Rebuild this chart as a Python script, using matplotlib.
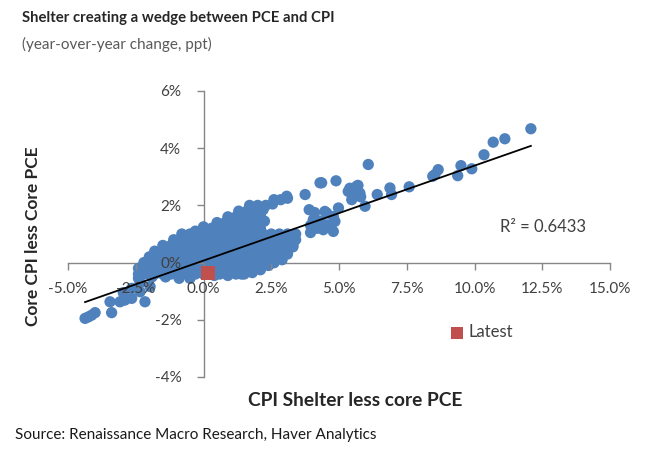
import matplotlib
matplotlib.use("Agg")
import matplotlib.pyplot as plt
import numpy as np

plt.rcParams['font.family'] = ['Lato', 'DejaVu Sans']

# Data (ppt)
# dense cloud around the origin
main_x = [2.6, 2.85, 3.1,
          1.7, 2.0, 2.3, 2.55,
          1.3, 1.6, 1.9, 2.2,
          0.9, 1.2, 1.5, 1.8, 2.1,
          0.5, 0.8, 1.1, 1.4, 1.7, 2.0, 2.25,
          -0.3, 0.0, 0.3, 0.6, 0.9, 1.2, 1.5, 1.8, 2.1,
          -0.8, -0.5, -0.2, 0.1, 0.4, 0.7, 1.0, 1.3, 1.6, 1.9, 2.2, 2.5, 2.8, 3.1, 3.4,
          -1.1, -0.8, -0.5, -0.2, 0.1, 0.4, 0.7, 1.0, 1.3, 1.6, 1.9, 2.2, 2.5, 2.8, 3.1, 3.4,
          -1.5, -1.2, -0.9, -0.6, -0.3, 0.0, 0.3, 0.6, 0.9, 1.2, 1.5, 1.8, 2.1, 2.4, 2.7, 3.0, 3.3,
          -1.8, -1.5, -1.2, -0.9, -0.6, -0.3, 0.0, 0.3, 0.6, 0.9, 1.2, 1.5, 1.8, 2.1, 2.4, 2.7, 3.0, 3.3,
          -2.0, -1.7, -1.4, -1.1, -0.8, -0.5, -0.2, 0.1, 0.4, 0.7, 1.0, 1.3, 1.6, 1.9, 2.2, 2.5, 2.8, 3.1,
          -2.2, -1.9, -1.6, -1.3, -1.0, -0.7, -0.4, -0.1, 0.2, 0.5, 0.8, 1.1, 1.4, 1.7, 2.0, 2.3, 2.6, 2.9,
          -2.4, -2.1, -1.8, -1.5, -1.2, -0.9, -0.6, -0.3, 0.0, 0.3, 0.6, 0.9, 1.2, 1.5, 1.8, 2.1, 2.4, 2.6,
          -2.4, -2.1, -1.8, -1.5, -1.2, -0.9, -0.6, -0.3, 0.0, 0.3, 0.6, 0.9, 1.2, 1.5, 1.8, 2.1,
          -2.4, -1.9, -1.4, -0.9, -0.5, 0.4, 0.9, 1.4]
main_y = [2.2, 2.2, 2.25,
          2.0, 2.0, 2.0, 2.05,
          1.8, 1.8, 1.8, 1.85,
          1.6, 1.6, 1.6, 1.6, 1.65,
          1.4, 1.4, 1.4, 1.4, 1.4, 1.45, 1.45,
          1.1, 1.25, 1.2, 1.2, 1.2, 1.2, 1.2, 1.2, 1.2,
          1.0, 1.0, 1.0, 1.0, 1.0, 1.0, 1.0, 1.0, 1.0, 1.0, 1.0, 1.0, 1.0, 1.0, 1.0,
          0.8, 0.8, 0.8, 0.8, 0.8, 0.8, 0.8, 0.8, 0.8, 0.8, 0.8, 0.8, 0.8, 0.8, 0.8, 0.8,
          0.6, 0.6, 0.6, 0.6, 0.6, 0.6, 0.6, 0.6, 0.6, 0.6, 0.6, 0.6, 0.6, 0.6, 0.6, 0.6, 0.6,
          0.4, 0.4, 0.4, 0.4, 0.4, 0.4, 0.4, 0.4, 0.4, 0.4, 0.4, 0.4, 0.4, 0.4, 0.4, 0.4, 0.4, 0.55,
          0.2, 0.2, 0.2, 0.2, 0.2, 0.2, 0.2, 0.2, 0.2, 0.2, 0.2, 0.2, 0.2, 0.2, 0.2, 0.2, 0.2, 0.3,
          0.0, 0.0, 0.0, 0.0, 0.0, 0.0, 0.0, 0.0, 0.0, 0.0, 0.0, 0.0, 0.0, 0.0, 0.0, 0.0, 0.0, 0.1,
          -0.2, -0.2, -0.2, -0.2, -0.2, -0.2, -0.2, -0.2, -0.2, -0.2, -0.2, -0.2, -0.2, -0.2, -0.2, -0.2, -0.1, 0.0,
          -0.4, -0.4, -0.4, -0.4, -0.4, -0.4, -0.4, -0.4, -0.4, -0.4, -0.4, -0.4, -0.4, -0.4, -0.35, -0.25,
          -0.55, -0.5, -0.5, -0.55, -0.55, -0.45, -0.45, -0.4]

# lower-left tail
tail_x = [-4.37, -4.25, -4.13, -4.0, -3.39, -3.45, -3.08, -2.9, -2.65, -2.16,
          -2.96, -2.65, -2.34, -1.97, -2.34, -2.1]
tail_y = [-1.95, -1.9, -1.84, -1.75, -1.75, -1.37, -1.37, -1.31, -1.25, -1.37,
          -1.05, -0.9, -1.02, -0.84, -0.7, -0.26]

# cluster just right of the cloud
right_x = [3.07, 3.75, 4.30, 4.89, 4.98, 3.9, 4.05, 4.55, 4.79, 3.95,
           4.48, 4.79, 4.85, 4.55, 4.42, 3.95, 4.2, 4.1, 4.3, 4.36]
right_y = [2.32, 2.38, 2.79, 2.86, 1.91, 1.85, 1.5, 1.73, 1.09, 1.05,
           1.79, 1.61, 1.44, 1.32, 1.15, 1.3, 1.2, 1.75, 1.45, 2.79]

# high shelter readings
far_x = [5.34, 5.53, 5.65, 5.77, 5.47, 5.6, 5.4, 5.7, 5.8, 5.96, 6.08, 6.41,
         6.88, 6.94, 7.59, 8.46, 8.54, 8.66, 9.38, 9.5, 9.9, 10.35, 10.69,
         11.12, 12.08]
far_y = [2.49, 2.55, 2.67, 2.43, 2.2, 2.35, 2.6, 2.7, 2.3, 1.97, 3.43, 2.38,
         2.61, 2.38, 2.65, 3.02, 3.08, 3.25, 3.04, 3.39, 3.28, 3.77, 4.21,
         4.33, 4.68]

latest_x = [0.17]
latest_y = [-0.36]

# linear trend as shown on the chart
trend_slope = 0.332
trend_intercept = 0.07
r2_text = 'R\u00b2 = 0.6433'

x_ticks = [-5.0, -2.5, 0.0, 2.5, 5.0, 7.5, 10.0, 12.5, 15.0]
x_ticklabels = ['-5.0%', '-2.5%', '0.0%', '2.5%', '5.0%', '7.5%', '10.0%', '12.5%', '15.0%']
y_ticks = [-4, -2, 0, 2, 4, 6]
y_ticklabels = ['-4%', '-2%', '0%', '2%', '4%', '6%']

W, H = 650, 455
fig = plt.figure(figsize=(6.5, 4.55), dpi=100)
ax = fig.add_axes([68 / W, 1 - 377 / H, (610 - 68) / W, (377 - 91) / H])

blue = '#4F81BD'
red = '#C0504D'
grey = '#868686'
txt = '#404040'

all_x = np.array(main_x + tail_x + right_x + far_x)
all_y = np.array(main_y + tail_y + right_y + far_y)
ax.scatter(all_x, all_y, s=66, color=blue, edgecolors='none', zorder=1)
latest = ax.scatter(latest_x, latest_y, s=105, marker='s', color=red,
                    edgecolors='none', zorder=3, label='Latest')

xs = np.array([all_x.min(), all_x.max()])
ax.plot(xs, trend_slope * xs + trend_intercept, color='black', lw=1.3, zorder=2)

ax.set_xlim(-5, 15)
ax.set_ylim(-4, 6)
ax.set_xticks(x_ticks)
ax.set_xticklabels(x_ticklabels)
ax.set_yticks(y_ticks)
ax.set_yticklabels(y_ticklabels)

for s in ['top', 'right']:
    ax.spines[s].set_visible(False)
ax.spines['left'].set_position(('data', 0))
ax.spines['bottom'].set_position(('data', 0))
for s in ['left', 'bottom']:
    ax.spines[s].set_color(grey)
    ax.spines[s].set_linewidth(1.0)
    ax.spines[s].set_zorder(0.5)
ax.tick_params(axis='x', direction='out', length=5, width=1, color=grey,
               labelsize=11, labelcolor=txt, pad=9)
ax.tick_params(axis='y', direction='out', length=5, width=1, color=grey,
               labelsize=11, labelcolor=txt, pad=11)
ax.patch.set_visible(False)

fig.text(500 / W, 1 - 227 / H, r2_text, fontsize=12, color=txt, va='center', ha='left')

leg = fig.legend(handles=[latest], loc='center left',
                 bbox_to_anchor=(450 / W, 1 - 332 / H), frameon=False,
                 fontsize=12, handlelength=0.8, handletextpad=0.3,
                 markerscale=0.85, borderaxespad=0, borderpad=0)
for t in leg.get_texts():
    t.set_color(txt)

fig.text(22 / W, 1 - 18 / H, 'Shelter creating a wedge between PCE and CPI',
         fontsize=10.7, fontweight='bold', color='#262626', va='center', ha='left')
fig.text(22 / W, 1 - 44 / H, '(year-over-year change, ppt)',
         fontsize=11, color='#595959', va='center', ha='left')
fig.text(33 / W, 1 - 236 / H, 'Core CPI less Core PCE', rotation=90,
         fontsize=12.5, fontweight='bold', color='#262626', va='center', ha='center')
fig.text(355 / W, 1 - 401 / H, 'CPI Shelter less core PCE',
         fontsize=13.8, fontweight='bold', color='#262626', va='center', ha='center')
fig.text(15 / W, 1 - 435 / H, 'Source: Renaissance Macro Research, Haver Analytics',
         fontsize=11, color='#1a1a1a', va='center', ha='left')

fig.savefig('out.png', dpi=100)
